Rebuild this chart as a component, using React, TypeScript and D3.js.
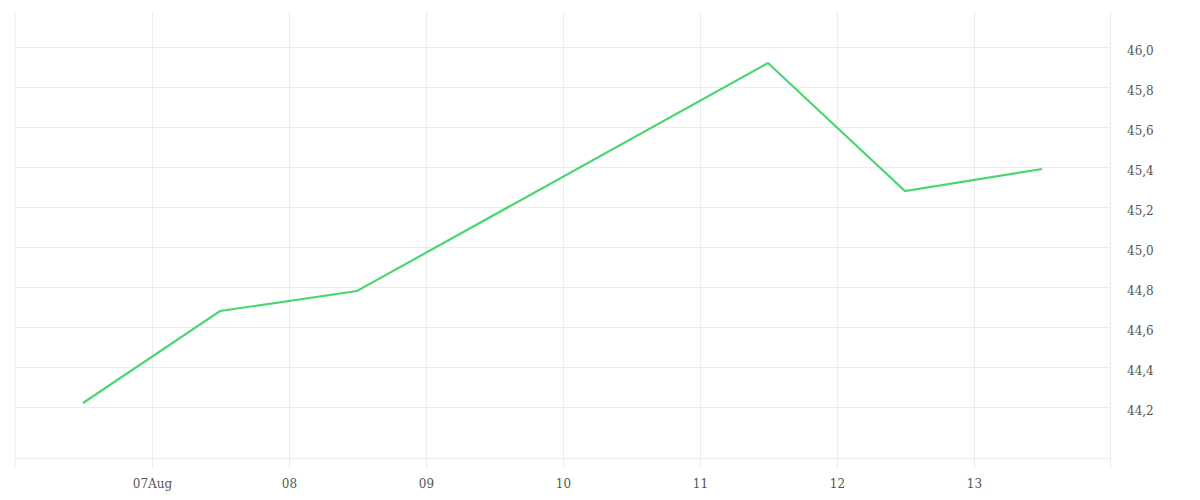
import React from "react";
import * as d3 from "d3";

const dates = ["2025-08-06T12:00", "2025-08-07T12:00", "2025-08-08T12:00", "2025-08-11T12:00", "2025-08-12T12:00", "2025-08-13T12:00"];
const values = [44.22, 44.68, 44.78, 45.92, 45.28, 45.39];
const yTicks = [44.2, 44.4, 44.6, 44.8, 45.0, 45.2, 45.4, 45.6, 45.8, 46.0];
const xTickDates = ["2025-08-07", "2025-08-08", "2025-08-09", "2025-08-10", "2025-08-11", "2025-08-12", "2025-08-13"];
const xTickLabels = ["07Aug", "08", "09", "10", "11", "12", "13"];
const xDomain = ["2025-08-06T00:00", "2025-08-14T00:00"];
const yDomain = [43.945, 46.175];

export default function App() {
  const W = 1200, H = 500;
  const left = 14.5, right = 1110.5, top = 12, bottom = 458;
  const x = d3.scaleTime().domain(xDomain.map((d) => new Date(d))).range([left, right]);
  const y = d3.scaleLinear().domain(yDomain).range([bottom, top]);
  const pts = dates.map((d, i) => [x(new Date(d)), y(values[i])] as [number, number]);
  const line = d3.line()(pts) || "";
  const fmt = (v: number) => v.toFixed(1).replace(".", ",");
  const grid = "#ececec";
  const font = "'DejaVu Serif', serif";
  return (
    <svg width={W} height={H} style={{ position: "absolute", left: 0, top: 0, background: "#fff" }}>
      <line x1={left + 0.5} x2={left + 0.5} y1={top} y2={468} stroke={grid} />
      <line x1={right} x2={right} y1={top} y2={468} stroke={grid} />
      {yTicks.map((t) => (
        <line key={t} x1={left} x2={right} y1={Math.round(y(t)) + 0.5} y2={Math.round(y(t)) + 0.5} stroke={grid} />
      ))}
      <line x1={left} x2={right} y1={bottom + 0.5} y2={bottom + 0.5} stroke={grid} />
      {xTickDates.map((d) => {
        const xx = Math.round(x(new Date(d + "T00:00"))) + 0.5;
        return <line key={d} x1={xx} x2={xx} y1={top} y2={468} stroke={grid} />;
      })}
      {xTickDates.map((d, i) => (
        <text key={d} x={x(new Date(d + "T00:00")) + 1} y={487.5} textAnchor="middle" fontFamily={font} fontSize={12} fill="#555">
          {xTickLabels[i]}
        </text>
      ))}
      {yTicks.map((t) => (
        <text key={t} x={1127} y={y(t) + 8.3} fontFamily={font} fontSize={12} fill="#555">
          {fmt(t)}
        </text>
      ))}
      <path d={line} fill="none" stroke="#4cd672" strokeWidth={2.2} strokeLinejoin="miter" />
    </svg>
  );
}
